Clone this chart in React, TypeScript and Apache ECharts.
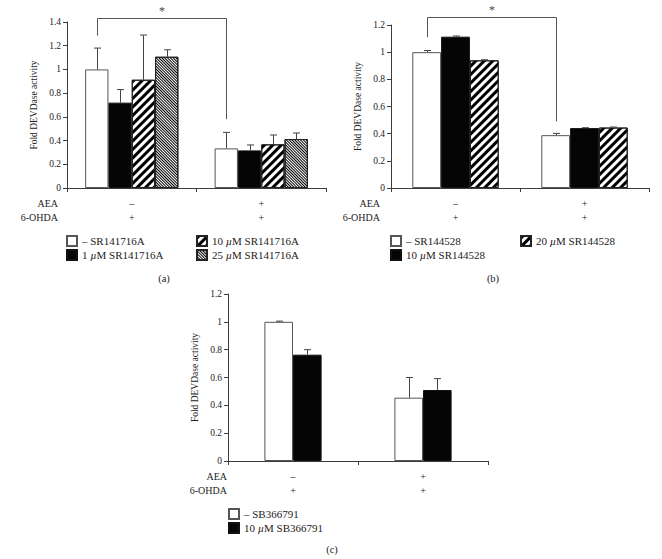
import React, { useEffect, useRef } from 'react';
import * as echarts from 'echarts';

const FONT = '"Liberation Serif", "Times New Roman", serif';
const TXT = '#222';
const LINE = '#3c3c3c';

// shared category info
const categories = ['AEA – / 6-OHDA +', 'AEA + / 6-OHDA +'];
const aeaRow = ['–', '+'];
const ohdaRow = ['+', '+'];
const rowLabels = ['AEA', '6-OHDA'];
const yTitle = 'Fold DEVDase activity';
const captions = ['(a)', '(b)', '(c)'];

// panel (a)
const aNames = ['– SR141716A', '1 µM SR141716A', '10 µM SR141716A', '25 µM SR141716A'];
const aNone = [1.0, 0.334];
const aNoneErr = [0.18, 0.135];
const a1 = [0.72, 0.317];
const a1Err = [0.11, 0.046];
const a10 = [0.913, 0.368];
const a10Err = [0.377, 0.079];
const a25 = [1.107, 0.413];
const a25Err = [0.059, 0.051];
const aBracket = [1.285, 1.43, 0.58];

// panel (b)
const bNames = ['– SR144528', '10 µM SR144528', '20 µM SR144528'];
const bNone = [1.0, 0.389];
const bNoneErr = [0.012, 0.013];
const b10 = [1.114, 0.441];
const b10Err = [0.005, 0.003];
const b20 = [0.94, 0.445];
const b20Err = [0.004, 0.004];
const bBracket = [1.11, 1.257, 0.49];

// panel (c)
const cNames = ['– SB366791', '10 µM SB366791'];
const cNone = [1.0, 0.455];
const cNoneErr = [0.005, 0.145];
const c10 = [0.764, 0.51];
const c10Err = [0.036, 0.082];

const decalWide = {
  symbol: 'rect', symbolSize: 1, dashArrayX: [1, 0], dashArrayY: [2.6, 2.4],
  rotation: -Math.PI / 4, color: '#000',
};
const decalDense = {
  symbol: 'rect', symbolSize: 1, dashArrayX: [1, 0], dashArrayY: [0.9, 0.9],
  rotation: Math.PI / 4, color: '#000',
};

const styleFor = (kind: string) => {
  if (kind === 'black') return { color: '#050505', borderColor: '#111', borderWidth: 1 };
  if (kind === 'wide') return { color: '#fff', borderColor: '#222', borderWidth: 1, decal: decalWide };
  if (kind === 'dense') return { color: '#fff', borderColor: '#222', borderWidth: 1, decal: decalDense };
  return { color: '#fff', borderColor: '#555', borderWidth: 1 };
};

type PanelDef = {
  names: string[];
  values: number[][];
  errors: number[][];
  kinds: string[];
  gap: number;
  max: number;
  grid: { left: number; top: number; width: number; height: number };
  bracket?: number[];
  legendCols: string[][];
  legendPos: { left: number; top: number }[];
  rowRight: number;
  caption: { x: number; y: number };
};

const panels: PanelDef[] = [
  {
    names: aNames,
    values: [aNone, a1, a10, a25],
    errors: [aNoneErr, a1Err, a10Err, a25Err],
    kinds: ['white', 'black', 'wide', 'dense'],
    gap: 0.28,
    max: 1.4,
    grid: { left: 67, top: 22, width: 259, height: 166 },
    bracket: aBracket,
    legendCols: [[aNames[0], aNames[1]], [aNames[2], aNames[3]]],
    legendPos: [{ left: 66, top: 235 }, { left: 196, top: 235 }],
    rowRight: 58,
    caption: { x: 164, y: 278 },
  },
  {
    names: bNames,
    values: [bNone, b10, b20],
    errors: [bNoneErr, b10Err, b20Err],
    kinds: ['white', 'black', 'wide'],
    gap: 0.33,
    max: 1.2,
    grid: { left: 391, top: 25, width: 258, height: 163 },
    bracket: bBracket,
    legendCols: [[bNames[0], bNames[1]], [bNames[2]]],
    legendPos: [{ left: 390, top: 235 }, { left: 520, top: 235 }],
    rowRight: 380,
    caption: { x: 493, y: 278 },
  },
  {
    names: cNames,
    values: [cNone, c10],
    errors: [cNoneErr, c10Err],
    kinds: ['white', 'black'],
    gap: 0.56,
    max: 1.2,
    grid: { left: 228, top: 294, width: 260, height: 167 },
    legendCols: [[cNames[0], cNames[1]]],
    legendPos: [{ left: 228, top: 508 }],
    rowRight: 227,
    caption: { x: 332, y: 549 },
  },
];

function buildOption() {
  const grids: any[] = [];
  const xAxes: any[] = [];
  const yAxes: any[] = [];
  const series: any[] = [];
  const legends: any[] = [];
  const graphics: any[] = [];

  panels.forEach((p, pi) => {
    grids.push({ ...p.grid, containLabel: false });
    xAxes.push({
      type: 'category',
      gridIndex: pi,
      data: categories,
      axisLine: { lineStyle: { color: LINE, width: 1 } },
      axisTick: { show: true, length: 4, lineStyle: { color: LINE } },
      axisLabel: {
        margin: 8,
        fontFamily: FONT,
        fontSize: 10,
        color: TXT,
        lineHeight: 14,
        formatter: (_v: string, i: number) => `${aeaRow[i]}\n${ohdaRow[i]}`,
      },
    });
    yAxes.push({
      type: 'value',
      gridIndex: pi,
      min: 0,
      max: p.max,
      interval: 0.2,
      name: yTitle,
      nameLocation: 'middle',
      nameRotate: 90,
      nameGap: 28,
      nameTextStyle: { fontFamily: FONT, fontSize: 9.5, color: TXT },
      splitLine: { show: false },
      axisLine: { show: true, lineStyle: { color: LINE, width: 1 } },
      axisTick: { show: true, length: 4, lineStyle: { color: LINE } },
      axisLabel: { fontFamily: FONT, fontSize: 9.5, color: TXT, margin: 6 },
    });

    const n = p.names.length;
    p.names.forEach((name, k) => {
      series.push({
        type: 'bar',
        name,
        xAxisIndex: pi,
        yAxisIndex: pi,
        data: p.values[k],
        barGap: '0%',
        barCategoryGap: `${Math.round(p.gap * 100)}%`,
        itemStyle: styleFor(p.kinds[k]),
        emphasis: { disabled: true },
        z: 2,
      });
    });

    const errData: number[][] = [];
    p.names.forEach((_n, k) => {
      p.values[k].forEach((v, c) => errData.push([c, k, v, v + p.errors[k][c]]));
    });
    const gap = p.gap;
    series.push({
      type: 'custom',
      xAxisIndex: pi,
      yAxisIndex: pi,
      data: errData,
      encode: { x: 0, y: 3 },
      z: 3,
      silent: true,
      itemStyle: { color: '#444' },
      renderItem: (_params: any, api: any) => {
        const c = api.value(0);
        const k = api.value(1);
        const base = api.coord([c, api.value(2)]);
        const top = api.coord([c, api.value(3)]);
        const band = api.size([1, 0])[0];
        const gw = band * (1 - gap);
        const bw = gw / n;
        const x = Math.round(base[0] - gw / 2 + bw * (k + 0.5)) + 0.5;
        const st = { stroke: '#444', lineWidth: 1, fill: null };
        return {
          type: 'group',
          children: [
            { type: 'line', shape: { x1: x, y1: base[1], x2: x, y2: top[1] }, style: st },
            { type: 'line', shape: { x1: x - 3.5, y1: top[1], x2: x + 3.5, y2: top[1] }, style: st },
          ],
        };
      },
    });

    if (p.bracket) {
      const br = p.bracket;
      series.push({
        type: 'custom',
        xAxisIndex: pi,
        yAxisIndex: pi,
        data: [[0, 1, br[0], br[1], br[2]]],
        encode: { x: 0, y: 3 },
        z: 4,
        clip: false,
        silent: true,
        itemStyle: { color: '#444' },
        renderItem: (_params: any, api: any) => {
          const band = api.size([1, 0])[0];
          const gw = band * (1 - gap);
          const bw = gw / n;
          const l0 = api.coord([api.value(0), api.value(2)]);
          const t0 = api.coord([api.value(0), api.value(3)]);
          const r0 = api.coord([api.value(1), api.value(4)]);
          const xl = Math.round(l0[0] - gw / 2 + bw / 2) + 0.5;
          const xr = Math.round(r0[0] - gw / 2 + bw / 2) + 0.5;
          const yt = Math.round(t0[1]) + 0.5;
          return {
            type: 'group',
            children: [
              {
                type: 'polyline',
                shape: { points: [[xl, l0[1]], [xl, yt], [xr, yt], [xr, r0[1]]] },
                style: { stroke: '#555', lineWidth: 1, fill: null },
              },
              {
                type: 'text',
                style: {
                  text: '*', x: (xl + xr) / 2, y: yt - 2, align: 'center', verticalAlign: 'bottom',
                  fontFamily: FONT, fontSize: 12, fill: '#444',
                },
              },
            ],
          };
        },
      });
    }

    p.legendCols.forEach((col, li) => {
      legends.push({
        data: col,
        orient: 'vertical',
        left: p.legendPos[li].left,
        top: p.legendPos[li].top,
        itemWidth: 10,
        itemHeight: 10,
        itemGap: 2,
        icon: 'rect',
        selectedMode: false,
        padding: 0,
        formatter: (name: string) => name.replace('µ', '{i|µ}'),
        textStyle: {
          fontFamily: FONT,
          fontSize: 11,
          color: TXT,
          lineHeight: 12,
          rich: { i: { fontFamily: FONT, fontSize: 11, fontStyle: 'italic', color: TXT, lineHeight: 12 } },
        },
      });
    });

    const rowYs = [p.grid.top + p.grid.height + 15, p.grid.top + p.grid.height + 29];
    rowLabels.forEach((t, ri) => {
      graphics.push({
        type: 'text',
        x: p.rowRight,
        y: rowYs[ri],
        style: { text: t, align: 'right', verticalAlign: 'middle', fontFamily: FONT, fontSize: 10, fill: TXT },
      });
    });
    graphics.push({
      type: 'text',
      x: p.caption.x,
      y: p.caption.y,
      style: { text: captions[pi], align: 'center', verticalAlign: 'middle', fontFamily: FONT, fontSize: 10.5, fill: TXT },
    });
  });

  return {
    animation: false,
    backgroundColor: '#fff',
    grid: grids,
    xAxis: xAxes,
    yAxis: yAxes,
    series,
    legend: legends,
    graphic: graphics,
  };
}

export default function App() {
  const ref = useRef<HTMLDivElement>(null);
  useEffect(() => {
    if (!ref.current) return;
    const chart = echarts.init(ref.current, undefined, { renderer: 'svg' });
    chart.setOption(buildOption() as any);
    return () => chart.dispose();
  }, []);
  return (
    <div
      ref={ref}
      style={{ position: 'absolute', left: 0, top: 0, width: 662, height: 559, background: '#fff' }}
    />
  );
}
